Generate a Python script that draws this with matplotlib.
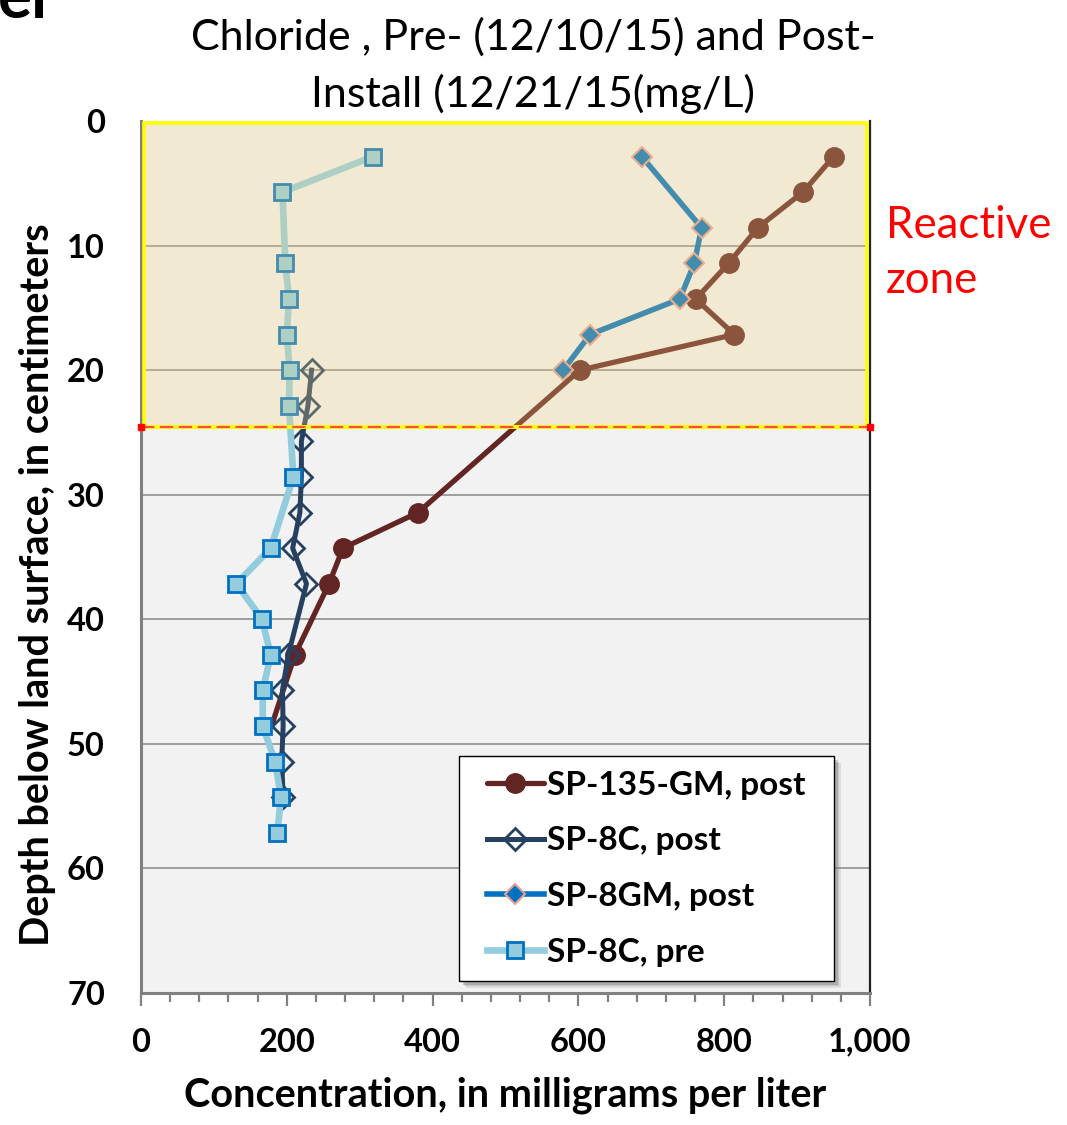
import matplotlib
matplotlib.use("Agg")
import matplotlib.pyplot as plt
from matplotlib.patches import Rectangle
from matplotlib.ticker import MultipleLocator, FuncFormatter

# Chloride concentration (mg/L) by depth (cm)
sp135gm_post_depth = [2.86, 5.71, 8.57, 11.43, 14.29, 17.14, 20.0, 31.43, 34.29, 37.14, 42.86, 48.57]
sp135gm_post_conc = [950, 908, 846, 806, 761, 814, 602, 380, 277, 258, 211, 179]

sp8c_post_depth = [20.0, 22.86, 25.71, 28.57, 31.43, 34.29, 37.14, 42.86, 45.71, 48.57, 51.43, 54.29]
sp8c_post_conc = [234, 229, 220, 220, 218, 208, 227, 202, 194, 195, 193, 195]

sp8gm_post_depth = [2.86, 8.57, 11.43, 14.29, 17.14, 20.0]
sp8gm_post_conc = [687, 769, 759, 739, 616, 579]

sp8c_pre_depth = [2.86, 5.71, 11.43, 14.29, 17.14, 20.0, 22.86, 28.57, 34.29, 37.14, 40.0,
                  42.86, 45.71, 48.57, 51.43, 54.29, 57.14]
sp8c_pre_conc = [318, 194, 198, 203, 200, 204, 203, 209, 178, 131, 166, 178, 167, 167, 184, 192, 187]

series_labels = ["SP-135-GM, post", "SP-8C, post", "SP-8GM, post", "SP-8C, pre"]
reactive_zone_depth = [0, 24.6]

x_ticks = [0, 200, 400, 600, 800, 1000]
y_ticks = [0, 10, 20, 30, 40, 50, 60, 70]

BOLD = dict(family="Lato", weight="bold")
W, H = 1067, 1125

fig = plt.figure(figsize=(W / 100, H / 100), dpi=100)
ax = fig.add_axes([141 / W, 132 / H, 729 / W, 872 / H])
ax.set_facecolor("#F2F2F2")

ax.set_xlim(0, 1000)
ax.set_ylim(70, 0)

# horizontal gridlines
for yv in y_ticks[1:-1]:
    ax.axhline(yv, color="#9E9E9E", lw=1.4, zorder=1)

ax.plot(sp135gm_post_conc, sp135gm_post_depth, color="#632523", lw=3.8, marker="o",
        markersize=14, markerfacecolor="#632523", markeredgecolor="#632523",
        markevery=list(range(len(sp135gm_post_conc) - 1)), solid_capstyle="round",
        label=series_labels[0], zorder=3)
ax.plot(sp8c_post_conc, sp8c_post_depth, color="#254061", lw=3.6, marker="D",
        markersize=11, markerfacecolor="none", markeredgecolor="#254061", markeredgewidth=2,
        label=series_labels[1], zorder=4)
ax.plot(sp8gm_post_conc, sp8gm_post_depth, color="#0070C0", lw=4, marker="D",
        markersize=10, markerfacecolor="#0070C0", markeredgecolor="#E6A090", markeredgewidth=1.5,
        label=series_labels[2], zorder=5)
ax.plot(sp8c_pre_conc, sp8c_pre_depth, color="#93CDDD", lw=4.8, marker="s",
        markersize=12, markerfacecolor="#93CDDD", markeredgecolor="#0070C0", markeredgewidth=2,
        label=series_labels[3], zorder=6)

# reactive zone shading and outline
top, bot = reactive_zone_depth
ax.add_patch(Rectangle((4, top), 992, bot - top, facecolor=(245 / 255, 213 / 255, 130 / 255),
                       alpha=0.28, edgecolor="none", zorder=7))
ax.plot([4, 4, 996, 996], [bot, 0.15, 0.15, bot], color="#FFFF00", lw=2.6, zorder=8,
        solid_joinstyle="miter", clip_on=False)
ax.plot([0, 1000], [bot, bot], color="#FFFF00", lw=2.8, zorder=8, clip_on=False)
ax.plot([0, 1000], [bot, bot], color="#FF5030", lw=1.6, ls=(0, (6, 2.5)), zorder=9,
        marker="s", markersize=5, markerfacecolor="#FF0000", markeredgecolor="#FF0000",
        clip_on=False)

# axes styling
for side in ["left", "bottom"]:
    ax.spines[side].set_color("#808080")
    ax.spines[side].set_linewidth(2.2)
ax.spines["right"].set_color("#202020")
ax.spines["right"].set_linewidth(1.6)
ax.spines["top"].set_visible(False)

ax.xaxis.set_major_locator(MultipleLocator(200))
ax.xaxis.set_minor_locator(MultipleLocator(40))
ax.xaxis.set_major_formatter(FuncFormatter(lambda v, p: f"{int(v):,}"))
ax.tick_params(axis="x", which="major", direction="out", length=9, width=1.6, color="#808080",
               pad=16)
ax.tick_params(axis="x", which="minor", direction="out", length=6.5, width=1.6, color="#808080")
ax.set_yticks(y_ticks)
ax.tick_params(axis="y", which="major", length=0, pad=26)
for lab in ax.get_xticklabels() + ax.get_yticklabels():
    lab.set_fontfamily("Lato")
    lab.set_fontweight("bold")
    lab.set_fontsize(23.5)

fig.text(505 / W, 1 - 1095 / H, "Concentration, in milligrams per liter", ha="center",
         va="center", fontsize=28.5, **BOLD)
fig.text(38 / W, 1 - 585 / H, "Depth below land surface, in centimeters", ha="center",
         va="center", rotation=90, fontsize=28.5, **BOLD)

fig.text(533 / W, 1 - 66 / H, "Chloride , Pre- (12/10/15) and Post-\nInstall (12/21/15(mg/L)",
         ha="center", va="center", fontsize=31, family="Lato", linespacing=1.52)
fig.text(886 / W, 1 - 253 / H, "Reactive\nzone", ha="left", va="center", fontsize=31.5,
         family="Lato", color="#FF0000", linespacing=1.45)

# panel letter, partially outside the figure
fig.text(-2 / W, 1 - 18 / H, "el", ha="left", va="baseline", fontsize=46, **BOLD)

leg = ax.legend(loc="lower right", bbox_to_anchor=(0.93, 0.015), prop=dict(size=24, **BOLD),
                frameon=False, handlelength=1.7, handletextpad=0.1, labelspacing=0.8,
                borderpad=0.4, borderaxespad=0)
leg.set_zorder(20)

# legend frame with drop shadow, padded wider than the legend contents
fig.canvas.draw()
bb = leg.get_window_extent()
padx, pady = 15, 1
x0, y0 = (bb.x0 - padx) / W, (bb.y0 - pady) / H
bw, bh = (bb.width + 2 * padx) / W, (bb.height + 2 * pady) / H
for k, (dx, dy, a) in enumerate([(7, -7, 0.18), (5.5, -5.5, 0.25), (4, -4, 0.35)]):
    ax.add_patch(Rectangle((x0 + dx / W, y0 + dy / H), bw, bh, transform=fig.transFigure,
                           facecolor="#808080", alpha=a, edgecolor="none", clip_on=False,
                           zorder=17 + k * 0.1))
ax.add_patch(Rectangle((x0, y0), bw, bh, transform=fig.transFigure, facecolor="white",
                       edgecolor="black", lw=1.0, clip_on=False, zorder=18))

fig.savefig("out.png", dpi=100, facecolor="white")
